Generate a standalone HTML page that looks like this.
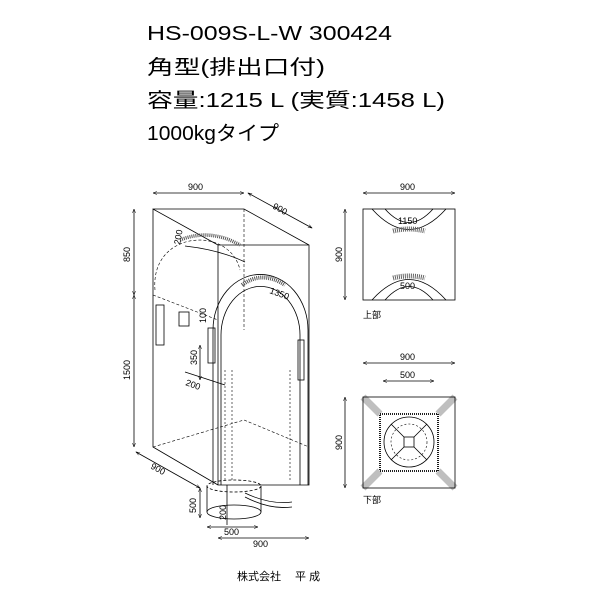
<!DOCTYPE html>
<html><head><meta charset="utf-8"><style>
html,body{margin:0;padding:0;background:#fff;}
svg{display:block;}
text{font-family:"Liberation Sans","Noto Sans CJK JP",sans-serif;fill:#000;}
</style></head><body>
<svg width="600" height="600" viewBox="0 0 600 600" xmlns="http://www.w3.org/2000/svg">
<defs>
<marker id="a" markerWidth="6" markerHeight="6" refX="5" refY="3" orient="auto-start-reverse"><path d="M0,1 L5,3 L0,5" fill="none" stroke="#000" stroke-width="0.6"/></marker>
</defs>
<g font-size="20">
<text x="147" y="40" textLength="245" lengthAdjust="spacingAndGlyphs">HS-009S-L-W  300424</text>
<text x="147" y="74" textLength="178" lengthAdjust="spacingAndGlyphs">角型(排出口付)</text>
<text x="147" y="107" textLength="298" lengthAdjust="spacingAndGlyphs">容量:1215 L (実質:1458 L)</text>
<text x="147" y="140" textLength="132" lengthAdjust="spacingAndGlyphs">1000kgタイプ</text>
</g>
<g fill="none" stroke="#000" stroke-width="0.8">
<path d="M153,209 H244 L309,245 V485 H218 V245 H309 M218,245 L153,209 V447 L218,485"/>
<path d="M153,295 L218,320 M244,209 V330 M153,447 L244,420 L309,447" stroke-dasharray="3,2" stroke-width="0.6"/>
<path d="M155,290 C150,230 230,225 240,270" stroke-dasharray="3,2" stroke-width="0.6"/>
<path d="M180,240 Q210,228 240,245" stroke="#555" stroke-width="3.5" stroke-dasharray="1,1"/>
<path d="M185,246 Q220,250 245,262" />
<path d="M213,485 V330 A47,55 0 0 1 308,330 V485"/>
<path d="M221,485 V335 A39,48 0 0 1 300,335 V485"/>
<path d="M242,285 Q262,270 285,285" stroke="#555" stroke-width="4" stroke-dasharray="1,1"/>
<path d="M225,370 V480 M232,370 V480 M290,370 V480" stroke-dasharray="2,2" stroke-width="0.6"/>
<rect x="156" y="305" width="8" height="40"/><rect x="179" y="312" width="10" height="14"/>
<rect x="208" y="328" width="7" height="35"/><rect x="298" y="340" width="6" height="40"/>
<ellipse cx="234" cy="486" rx="27" ry="6" stroke-dasharray="3,2"/>
<path d="M207,486 V512 M261,486 V512"/>
<ellipse cx="234" cy="512" rx="27" ry="7"/>
<path d="M245,493 Q270,505 292,502 M245,497 Q270,510 292,507"/>
<path d="M153,193 H244" marker-start="url(#a)" marker-end="url(#a)"/>
<path d="M248,193 L312,228" marker-start="url(#a)" marker-end="url(#a)"/>
<path d="M134,209 V295" marker-start="url(#a)" marker-end="url(#a)"/>
<path d="M134,295 V447" marker-start="url(#a)" marker-end="url(#a)"/>
<path d="M136,452 L200,488" marker-start="url(#a)" marker-end="url(#a)"/>
<path d="M200,488 V518" marker-start="url(#a)" marker-end="url(#a)"/>
<path d="M207,527 H258" marker-start="url(#a)" marker-end="url(#a)"/>
<path d="M218,538 H309" marker-start="url(#a)" marker-end="url(#a)"/>
<path d="M200,345 V380" marker-start="url(#a)" marker-end="url(#a)"/>
<path d="M185,372 L225,385"/>
<path d="M227,485 V525"/>
<rect x="363" y="209" width="92" height="91"/>
<path d="M372,209 Q409,250 446,209 M385,209 Q409,236 433,209"/>
<path d="M372,300 Q409,259 446,300 M385,300 Q409,273 433,300"/>
<path d="M393,231 Q409,227 425,231 M393,278 Q409,274 425,278" stroke="#666" stroke-width="5" stroke-dasharray="1,1"/>
<path d="M363,193 H455" marker-start="url(#a)" marker-end="url(#a)"/>
<path d="M345,209 V300" marker-start="url(#a)" marker-end="url(#a)"/>
<rect x="363" y="397" width="92" height="91"/>
<rect x="380" y="414" width="58" height="57" stroke-width="1.8" stroke-dasharray="1,1"/>
<circle cx="409" cy="442" r="25"/>
<circle cx="409" cy="442" r="18" stroke-dasharray="2,2" stroke-width="0.6"/>
<rect x="404" y="437" width="10" height="10"/>
<path d="M391,424 L404,437 M427,424 L414,437 M391,460 L404,447 M427,460 L414,447"/>
<path d="M363,397 L380,414 M455,397 L438,414 M363,488 L380,471 M455,488 L438,471" stroke-width="7" stroke-opacity="0.25"/>
<path d="M363,363 H455" marker-start="url(#a)" marker-end="url(#a)"/>
<path d="M383,381 H434" marker-start="url(#a)" marker-end="url(#a)"/>
<path d="M345,397 V488" marker-start="url(#a)" marker-end="url(#a)"/>
</g>
<g font-size="9">
<text x="188" y="190">900</text>
<text x="272" y="208" transform="rotate(29 272 208)">900</text>
<text x="130" y="262" transform="rotate(-90 130 262)">850</text>
<text x="130" y="380" transform="rotate(-90 130 380)">1500</text>
<text x="150" y="468" transform="rotate(29 150 468)">900</text>
<text x="196" y="513" transform="rotate(-90 196 513)">500</text>
<text x="226" y="520" transform="rotate(-90 226 520)">200</text>
<text x="224" y="535">500</text>
<text x="253" y="547">900</text>
<text x="197" y="365" transform="rotate(-90 197 365)">350</text>
<text x="206" y="323" transform="rotate(-90 206 323)">100</text>
<text x="185" y="385" transform="rotate(20 185 385)">200</text>
<text x="180" y="245" transform="rotate(-80 180 245)">200</text>
<text x="269" y="293" transform="rotate(20 269 293)">1350</text>
<text x="400" y="190">900</text>
<text x="342" y="262" transform="rotate(-90 342 262)">900</text>
<text x="398" y="224">1150</text>
<text x="400" y="289">500</text>
<text x="363" y="318">上部</text>
<text x="400" y="360">900</text>
<text x="400" y="378">500</text>
<text x="342" y="450" transform="rotate(-90 342 450)">900</text>
<text x="363" y="503">下部</text>
<text x="237" y="580" font-size="11">株式会社　 平 成</text>
</g>
</svg>
</body></html>
